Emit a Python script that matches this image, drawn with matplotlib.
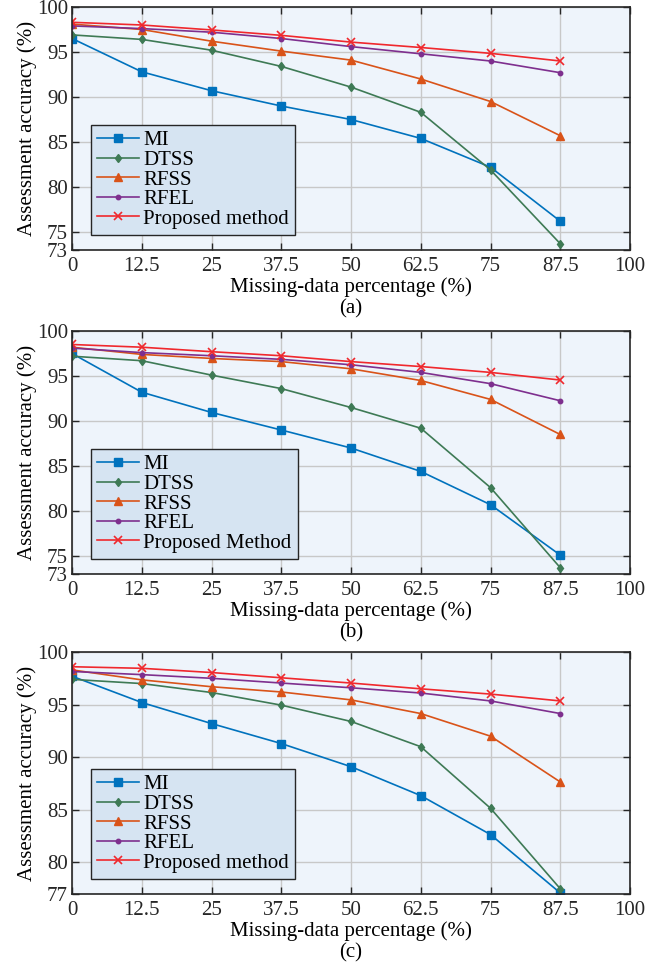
import matplotlib
matplotlib.use("Agg")
import matplotlib.pyplot as plt

x = [0, 12.5, 25, 37.5, 50, 62.5, 75, 87.5]
xticks = [0, 12.5, 25, 37.5, 50, 62.5, 75, 87.5, 100]
xticklabels = ["0", "12.5", "25", "37.5", "50", "62.5", "75", "87.5", "100"]

# Panel (a)
a_MI = [96.5, 92.8, 90.7, 89.0, 87.5, 85.4, 82.2, 76.2]
a_DTSS = [96.9, 96.4, 95.2, 93.4, 91.1, 88.3, 81.9, 73.7]
a_RFSS = [98.1, 97.5, 96.2, 95.1, 94.1, 92.0, 89.5, 85.7]
a_RFEL = [97.9, 97.6, 97.2, 96.5, 95.6, 94.8, 94.0, 92.7]
a_PROP = [98.3, 98.0, 97.45, 96.85, 96.1, 95.5, 94.85, 94.0]

# Panel (b)
b_MI = [97.5, 93.2, 90.95, 89.0, 87.0, 84.4, 80.7, 75.1]
b_DTSS = [97.2, 96.7, 95.1, 93.6, 91.5, 89.2, 82.6, 73.7]
b_RFSS = [98.2, 97.4, 96.95, 96.6, 95.8, 94.5, 92.4, 88.5]
b_RFEL = [98.1, 97.6, 97.25, 96.85, 96.25, 95.4, 94.15, 92.25]
b_PROP = [98.5, 98.2, 97.7, 97.25, 96.6, 96.05, 95.4, 94.55]

# Panel (c)
c_MI = [97.7, 95.2, 93.2, 91.3, 89.1, 86.35, 82.65, 77.1]
c_DTSS = [97.4, 97.0, 96.15, 94.95, 93.4, 91.0, 85.15, 77.5]
c_RFSS = [98.3, 97.35, 96.7, 96.2, 95.45, 94.15, 92.0, 87.65]
c_RFEL = [98.15, 97.85, 97.5, 97.05, 96.6, 96.1, 95.35, 94.15]
c_PROP = [98.6, 98.45, 98.05, 97.55, 97.05, 96.5, 96.0, 95.35]

names_a = ["MI", "DTSS", "RFSS", "RFEL", "Proposed method"]
names_b = ["MI", "DTSS", "RFSS", "RFEL", "Proposed Method"]
names_c = ["MI", "DTSS", "RFSS", "RFEL", "Proposed method"]

yticks_a = [73, 75, 80, 85, 90, 95, 100]
yticks_b = [73, 75, 80, 85, 90, 95, 100]
yticks_c = [77, 80, 85, 90, 95, 100]

panels = [
    ([a_MI, a_DTSS, a_RFSS, a_RFEL, a_PROP], names_a, (73, 100), yticks_a, "(a)"),
    ([b_MI, b_DTSS, b_RFSS, b_RFEL, b_PROP], names_b, (73, 100), yticks_b, "(b)"),
    ([c_MI, c_DTSS, c_RFSS, c_RFEL, c_PROP], names_c, (77, 100), yticks_c, "(c)"),
]

colors = ["#0072BD", "#3E7A55", "#D95319", "#7E2F8E", "#F0282D"]
markers = ["s", "d", "^", "o", "x"]
msizes = [6, 4.5, 6, 3.2, 5.5]

plt.rcParams["font.family"] = ["Liberation Serif", "DejaVu Serif"]
plt.rcParams["mathtext.fontset"] = "stix"

FS = 15

fig = plt.figure(figsize=(6.61, 9.65), dpi=100)
W, H = 661, 965
axes_px = [(7, 250), (331, 574), (652, 894)]
left, right = 72, 630

for (series, names, ylim, yticks, tag), (top, bot) in zip(panels, axes_px):
    ax = fig.add_axes([left / W, 1 - bot / H, (right - left) / W, (bot - top) / H])
    ax.set_facecolor("#EEF4FB")
    for vals, name, c, m, ms in zip(series, names, colors, markers, msizes):
        ax.plot(x, vals, color=c, marker=m, markersize=ms, linewidth=1.2,
                markeredgewidth=1.0 if m != "x" else 1.2, label=name)
    ax.set_xlim(0, 100)
    ax.set_ylim(*ylim)
    ax.set_xticks(xticks)
    ax.set_xticklabels(xticklabels)
    ax.set_yticks(yticks)
    ax.grid(True, color="#C8C8C8", linewidth=1.0)
    ax.set_axisbelow(True)
    ax.tick_params(direction="in", length=5, width=1.0, top=True, right=True,
                   labelsize=FS, colors="#262626")
    ax.tick_params(axis="x", pad=5)
    ax.tick_params(axis="y", pad=3)
    for sp in ax.spines.values():
        sp.set_linewidth(1.2)
        sp.set_color("#262626")
    ax.set_ylabel("Assessment accuracy (%)", fontsize=FS, labelpad=0)
    ax.set_xlabel("Missing-data percentage (%)\n" + tag, fontsize=FS, labelpad=1,
                  linespacing=1.15)
    leg = ax.legend(loc="lower left", bbox_to_anchor=(0.034, 0.062),
                    borderaxespad=0, fontsize=FS, handlelength=2.0,
                    handletextpad=0.2, labelspacing=0.0, borderpad=0.3,
                    fancybox=False, framealpha=1.0)
    leg.get_frame().set_facecolor("#D6E4F2")
    leg.get_frame().set_edgecolor("#262626")
    leg.get_frame().set_linewidth(1.0)

fig.savefig("out.png", dpi=100)
